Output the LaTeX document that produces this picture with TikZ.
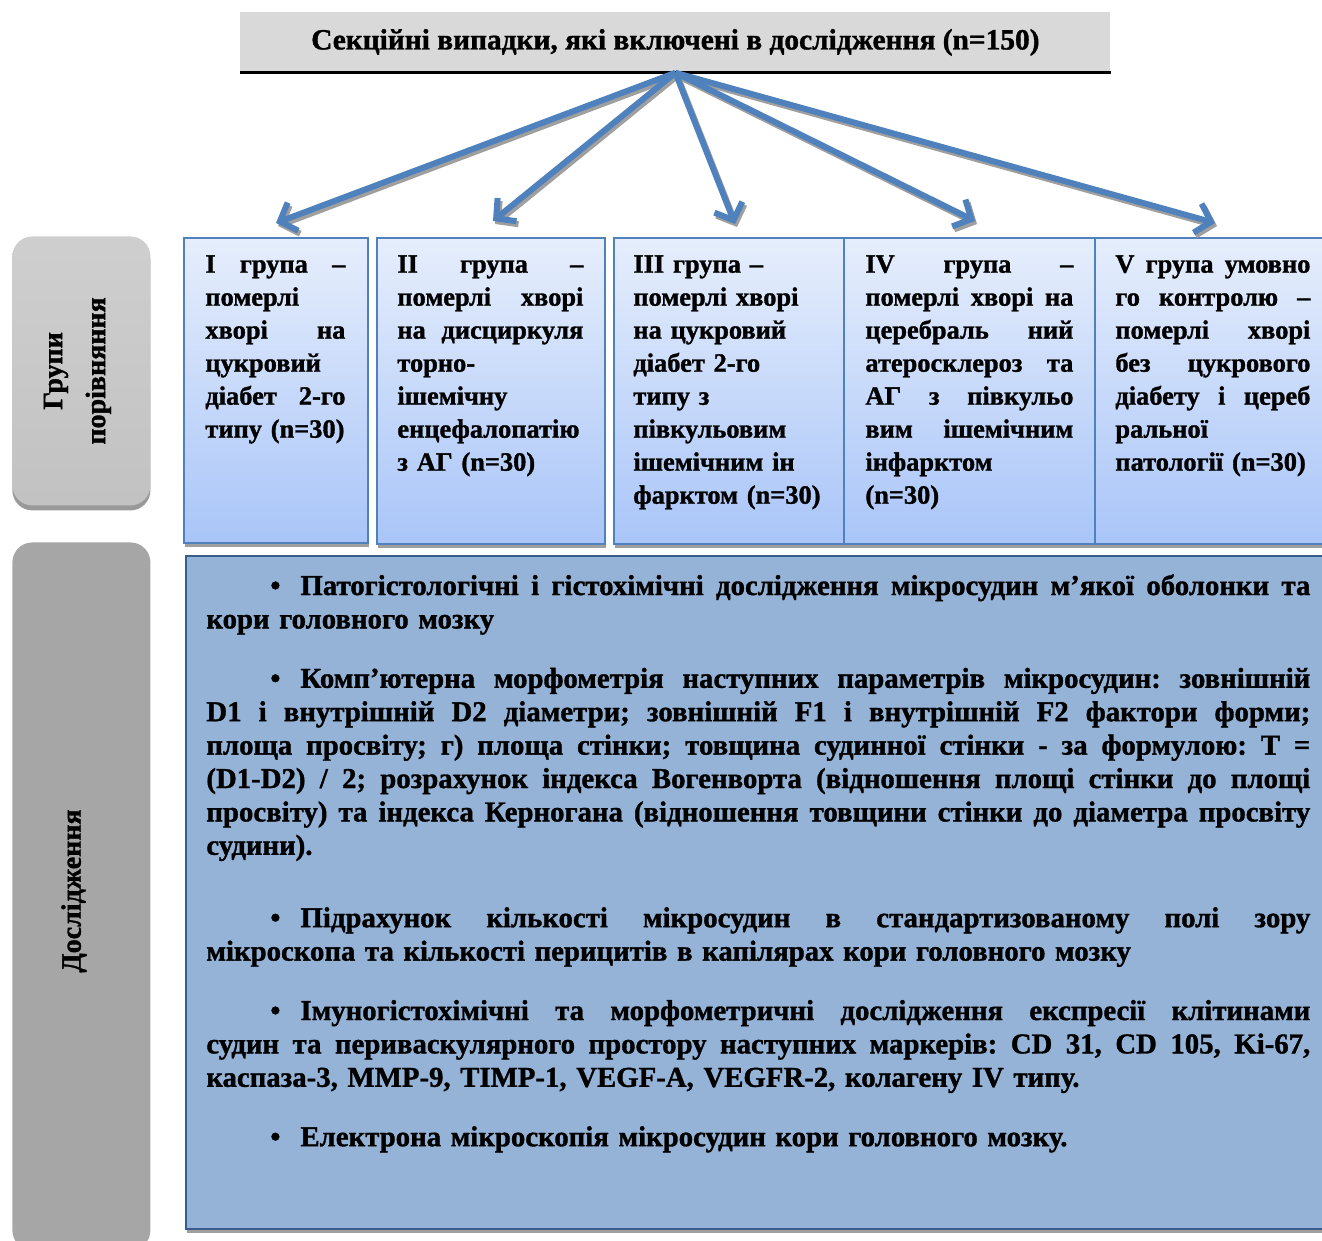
\documentclass[tikz,border=0pt]{standalone}
\usepackage{fontspec}
\setmainfont{Liberation Serif}[BoldFeatures={FakeBold=1.2}]
\usetikzlibrary{arrows.meta,shadows}
\frenchspacing

\definecolor{arrblue}{HTML}{4F81BD}
\definecolor{grptop}{HTML}{E6EEFC}
\definecolor{grpbot}{HTML}{A9C5F8}
\definecolor{studyfill}{HTML}{95B3D7}
\definecolor{studyline}{HTML}{385D8A}
\definecolor{titlefill}{HTML}{D9D9D9}

% one justified line of a box
\newcommand{\jline}[1]{{\spaceskip=0pt\xspaceskip=0pt\makebox[\hsize][s]{#1}}}

\tikzset{
  grpbox/.style={draw=arrblue, line width=1pt, top color=grptop, bottom color=grpbot,
    anchor=north west, inner sep=0,
    drop shadow={shadow xshift=0.5pt, shadow yshift=-2pt, fill=gray!75, opacity=1}},
  grptext/.style={anchor=north west, inner sep=0, align=left,
    font=\bfseries\fontsize{13.2}{16.5}\selectfont},
  studyfont/.style={font=\bfseries\fontsize{14.4}{16.7}\selectfont},
  sidebox/.style={rounded corners=10pt, anchor=north west, inner sep=0, minimum width=69pt},
  sidetext/.style={rotate=90, align=center, font=\bfseries\fontsize{14}{21.5}\selectfont},
  arrmain/.style={draw=arrblue, line width=3pt, -{Straight Barb[length=7pt,width=15pt]}},
  arrshade/.style={draw=gray!75, line width=3pt, -{Straight Barb[length=7pt,width=15pt]},
    transform canvas={xshift=1pt,yshift=-1.5pt}}
}

\begin{document}
\begin{tikzpicture}[x=0.5pt,y=-0.5pt]
    \useasboundingbox (0,0) rectangle (1322,1241);

    % title
    \node[fill=titlefill, minimum width=435pt, minimum height=30pt, inner sep=0,
      anchor=north west, font=\bfseries\fontsize{14.7}{18}\selectfont] (title) at (240,12)
      {Секційні випадки, які включені в дослідження (n=150)};
    \draw[line width=1.5pt] (title.south west) -- (title.south east);

    % side labels
    \node[sidebox, minimum height=134.5pt, top color=gray!38, bottom color=gray!48,
      drop shadow={shadow xshift=0pt, shadow yshift=-2.5pt, fill=gray!80, opacity=1}] (side1) at (12,236) {};
    \node[sidetext] (side1text) at ([xshift=-2pt]side1.center) {Групи\\порівняння};
    \node[sidebox, minimum height=354pt, fill=gray!70] (side2) at (12,542) {};
    \node[sidetext] (side2text) at (74,891) {Дослідження};

    % groups
    \node[grpbox, minimum width=92pt, minimum height=152.5pt] (g1) at (183,237) {};
    \node[grpbox, minimum width=114pt, minimum height=153pt] (g2) at (376,237) {};
    \node[grpbox, minimum width=115pt, minimum height=153pt] (g3) at (613,237) {};
    \node[grpbox, minimum width=125.5pt, minimum height=153pt] (g4) at (843,237) {};
    \node[grpbox, minimum width=125pt, minimum height=153pt] (g5) at (1094,237) {};

    \node[grptext, text width=70pt] (t1) at (205,255)
      {\jline{I група –}\\ померлі\\ \jline{хворі на}\\ цукровий\\ \jline{діабет 2-го}\\ типу (n=30)};
    \node[grptext, text width=93pt] (t2) at (397,255)
      {\jline{II група –}\\ \jline{померлі хворі}\\ \jline{на дисциркуля}\\ торно-\\ ішемічну\\
       енцефалопатію\\ з АГ (n=30)};
    \node[grptext, text width=94pt] (t3) at (633,255)
      {III група –\\ померлі хворі\\ на цукровий\\ діабет 2-го\\ типу з\\ півкульовим\\
       ішемічним ін\\ фарктом (n=30)};
    \node[grptext, text width=104pt] (t4) at (865,255)
      {\jline{IV група –}\\ \jline{померлі хворі на}\\ \jline{церебраль ний}\\ \jline{атеросклероз та}\\
       \jline{АГ з півкульо}\\ \jline{вим ішемічним}\\ інфарктом\\ (n=30)};
    \node[grptext, text width=97.5pt] (t5) at (1115,255)
      {\jline{V група умовно}\\ \jline{го контролю –}\\ \jline{померлі хворі}\\ \jline{без цукрового}\\
       \jline{діабету і цереб}\\ ральної\\ патології (n=30)};

    % arrows
    \coordinate (tip1) at (276,223);
    \coordinate (tip2) at (493,221);
    \coordinate (tip3) at (735,224);
    \coordinate (tip4) at (975,221);
    \coordinate (tip5) at (1215,223);
    \foreach \i in {1,...,5}
      \draw[arrshade] (title.south) -- (tip\i);
    \foreach \i in {1,...,5}
      \draw[arrmain] (title.south) -- (tip\i);

    % studies
    \node[draw=studyline, line width=1pt, fill=studyfill, anchor=north west, inner sep=0,
      minimum width=575pt, minimum height=336.5pt,
      drop shadow={shadow xshift=0.5pt, shadow yshift=-2pt, fill=gray!75, opacity=1}] (study) at (185,555) {};
    \node[grptext, studyfont, text width=552pt] (studytext) at (206,574)
      {\jline{\hspace*{32pt}•\hspace{10pt}Патогістологічні і гістохімічні дослідження мікросудин м’якої оболонки та}\\
       кори головного мозку\\[13pt]
       \jline{\hspace*{32pt}•\hspace{10pt}Комп'ютерна морфометрія наступних параметрів мікросудин: зовнішній}\\
       \jline{D1 і внутрішній D2 діаметри; зовнішній F1 і внутрішній F2 фактори форми;}\\
       \jline{площа просвіту; г) площа стінки; товщина судинної стінки - за формулою: T =}\\
       \jline{(D1-D2) / 2; розрахунок індекса Вогенворта (відношення площі стінки до площі}\\
       \jline{просвіту) та індекса Керногана (відношення товщини стінки до діаметра просвіту}\\
       судини).\\[19.5pt]
       \jline{\hspace*{32pt}•\hspace{10pt}Підрахунок кількості мікросудин в стандартизованому полі зору}\\
       мікроскопа та кількості перицитів в капілярах кори головного мозку\\[13pt]
       \jline{\hspace*{32pt}•\hspace{10pt}Імуногістохімічні та морфометричні дослідження експресії клітинами}\\
       \jline{судин та периваскулярного простору наступних маркерів: CD 31, CD 105, Ki-67,}\\
       каспаза-3, MMP-9, TIMP-1, VEGF-A, VEGFR-2, колагену IV типу.\\[13pt]
       \hspace*{32pt}•\hspace{10pt}Електрона мікроскопія мікросудин кори головного мозку.};
\end{tikzpicture}
\end{document}
